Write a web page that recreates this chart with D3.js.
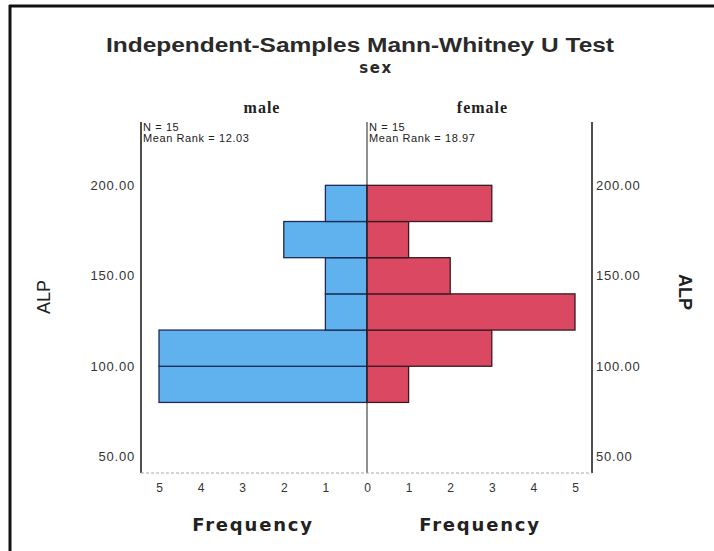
<!DOCTYPE html>
<html><head><meta charset="utf-8">
<script src="https://cdn.jsdelivr.net/npm/d3@7"></script>
<style>
html,body{margin:0;padding:0;background:#fff;}
svg{display:block;}
</style></head>
<body>
<svg id="c" width="714" height="551"></svg>
<script>
const title = "Independent-Samples Mann-Whitney U Test";
const groupVar = "sex";
const groups = ["male", "female"];
const groupN = [15, 15];
const meanRanks = ["12.03", "18.97"];
const binStarts = [80, 100, 120, 140, 160, 180];
const binWidth = 20;
const maleCounts = [5, 5, 1, 1, 2, 1];
const femaleCounts = [1, 3, 5, 2, 1, 3];
const yTicks = [50, 100, 150, 200];
const freqTicks = [0, 1, 2, 3, 4, 5];
const yLabel = "ALP";
const xLabel = "Frequency";

const svg = d3.select("#c");
const plotTop = 122, plotBottom = 473, leftAx = 141, centerAx = 367, rightAx = 592;

const y = d3.scaleLinear().domain([41, 235]).range([plotBottom, plotTop]);
const xL = d3.scaleLinear().domain([0, 5]).range([centerAx, 159]);
const xR = d3.scaleLinear().domain([0, 5]).range([centerAx, 575]);

// frame (photo border)
svg.append("line").attr("x1",10).attr("x2",10).attr("y1",5).attr("y2",551).attr("stroke","#111").attr("stroke-width",3);
svg.append("line").attr("x1",9).attr("x2",714).attr("y1",6).attr("y2",6).attr("stroke","#111").attr("stroke-width",3);

// titles
svg.append("text").attr("x",360).attr("y",52).attr("text-anchor","middle")
  .attr("font-family","Liberation Sans, Arial, sans-serif").attr("font-weight","bold").attr("font-size",20)
  .attr("fill","#2a2a2a").attr("textLength",508).attr("lengthAdjust","spacingAndGlyphs").text(title);
svg.append("text").attr("x",376).attr("y",73).attr("text-anchor","middle")
  .attr("font-family","DejaVu Sans, sans-serif").attr("font-weight","bold").attr("font-size",15)
  .attr("letter-spacing",1.5).attr("fill","#2a2a2a").text(groupVar);

const groupCenters = [(leftAx+centerAx)/2+8, (centerAx+rightAx)/2+3];
groups.forEach((g,i)=>{
  svg.append("text").attr("x",groupCenters[i]).attr("y",113).attr("text-anchor","middle")
    .attr("font-family","Liberation Serif, Times New Roman, serif").attr("font-weight","bold").attr("font-size",16)
    .attr("letter-spacing",1).attr("fill","#222").text(g);
  const x0 = i===0 ? leftAx+2 : centerAx+2;
  svg.append("text").attr("x",x0).attr("y",131).attr("font-family","Liberation Sans, Arial, sans-serif")
    .attr("font-size",11).attr("letter-spacing",0.6).attr("fill","#222").text("N = " + groupN[i]);
  svg.append("text").attr("x",x0).attr("y",142).attr("font-family","Liberation Sans, Arial, sans-serif")
    .attr("font-size",11).attr("letter-spacing",0.6).attr("fill","#222").text("Mean Rank = " + meanRanks[i]);
});

// bars
const bins = binStarts.map((b,i)=>({b, m:maleCounts[i], f:femaleCounts[i]}));
svg.selectAll(".bm").data(bins).join("rect").attr("class","bm")
  .attr("x",d=>xL(d.m)).attr("width",d=>xL(0)-xL(d.m))
  .attr("y",d=>y(d.b+binWidth)).attr("height",d=>y(d.b)-y(d.b+binWidth))
  .attr("fill","#5fb2ee").attr("stroke","#1c2a55").attr("stroke-width",1.3);
svg.selectAll(".bf").data(bins).join("rect").attr("class","bf")
  .attr("x",xR(0)).attr("width",d=>xR(d.f)-xR(0))
  .attr("y",d=>y(d.b+binWidth)).attr("height",d=>y(d.b)-y(d.b+binWidth))
  .attr("fill","#da4862").attr("stroke","#3a1a22").attr("stroke-width",1.3);

// axes lines
[leftAx, centerAx, rightAx].forEach(x=>{
  svg.append("line").attr("x1",x).attr("x2",x).attr("y1",plotTop).attr("y2",plotBottom)
    .attr("stroke","#222").attr("stroke-width", x===centerAx?1:1.6);
});
svg.append("line").attr("x1",leftAx).attr("x2",rightAx).attr("y1",plotBottom).attr("y2",plotBottom)
  .attr("stroke","#aaa").attr("stroke-width",1.2).attr("stroke-dasharray","3,2");

// y tick labels
const fmt = d3.format(".2f");
const yAxL = d3.axisLeft(y).tickValues(yTicks).tickFormat(fmt).tickSize(0).tickPadding(6);
const gL = svg.append("g").attr("transform",`translate(${leftAx},0)`).call(yAxL);
const yAxR = d3.axisRight(y).tickValues(yTicks).tickFormat(fmt).tickSize(0).tickPadding(4);
const gR = svg.append("g").attr("transform",`translate(${rightAx},0)`).call(yAxR);
[gL,gR].forEach(g=>{
  g.select(".domain").remove();
  g.selectAll("text").attr("font-family","Liberation Sans, Arial, sans-serif").attr("font-size",13)
    .attr("letter-spacing",0.8).attr("fill","#333");
});

// frequency tick labels
const xAxL = d3.axisBottom(xL).tickValues(freqTicks.slice(1)).tickFormat(d3.format("d")).tickSize(0).tickPadding(10);
const xAxR = d3.axisBottom(xR).tickValues(freqTicks).tickFormat(d3.format("d")).tickSize(0).tickPadding(10);
const gxL = svg.append("g").attr("transform",`translate(0,${plotBottom})`).call(xAxL);
const gxR = svg.append("g").attr("transform",`translate(0,${plotBottom})`).call(xAxR);
[gxL,gxR].forEach(g=>{
  g.select(".domain").remove();
  g.selectAll("text").attr("font-family","Liberation Sans, Arial, sans-serif").attr("font-size",12).attr("fill","#333");
});

// axis titles
[253, 480].forEach(cx=>{
  svg.append("text").attr("x",cx).attr("y",531).attr("text-anchor","middle")
    .attr("font-family","DejaVu Sans, Verdana, sans-serif").attr("font-weight","bold").attr("font-size",18)
    .attr("letter-spacing",1.8).attr("fill","#222").text(xLabel);
});
svg.append("text").attr("transform","translate(50,297) rotate(-90)").attr("text-anchor","middle")
  .attr("font-family","Liberation Sans, Arial, sans-serif").attr("font-size",18).attr("fill","#222").text(yLabel);
svg.append("text").attr("transform","translate(679,292) rotate(90)").attr("text-anchor","middle")
  .attr("font-family","Liberation Sans, Arial, sans-serif").attr("font-weight","bold").attr("font-size",18).attr("fill","#222").text(yLabel);
</script>
</body></html>
